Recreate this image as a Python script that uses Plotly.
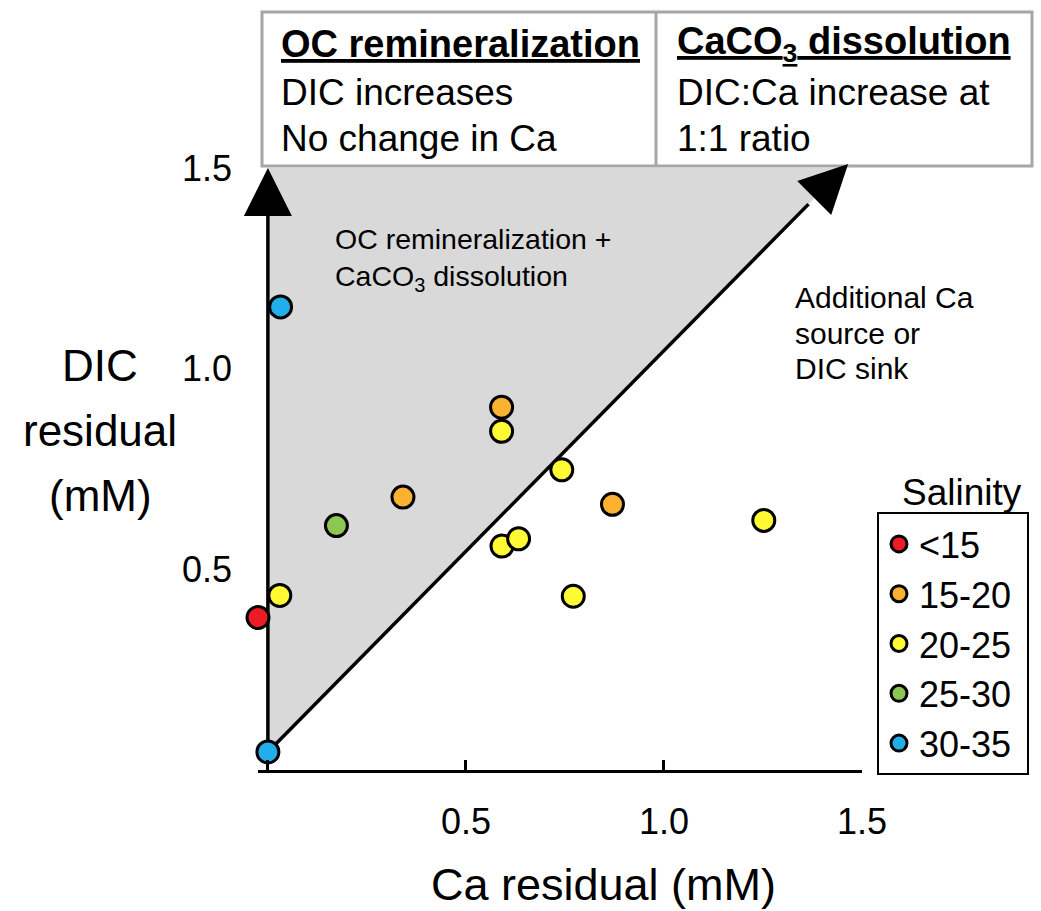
import plotly.graph_objects as go

# Residuals (mM) and salinity class of each station
ca_residual = [-0.025, 0.0, 0.032, 0.03, 0.59, 0.742, 0.591, 0.633, 0.771, 1.252, 0.173, 0.341, 0.59, 0.87]
dic_residual = [0.38, 0.045, 1.154, 0.435, 0.844, 0.748, 0.558, 0.576, 0.433, 0.622, 0.609, 0.68, 0.904, 0.662]
salinity_class = ["<15", "30-35", "30-35", "20-25", "20-25", "20-25", "20-25", "20-25", "20-25", "20-25",
                  "25-30", "15-20", "15-20", "15-20"]

class_order = ["<15", "15-20", "20-25", "25-30", "30-35"]
class_labels = ["&lt;15", "15-20", "20-25", "25-30", "30-35"]
class_colors = ["#ED1C24", "#FBB232", "#FFFA33", "#8DC653", "#22AEEA"]

x_ticks = [0.5, 1.0, 1.5]
x_ticktext = ["0.5", "1.0", "1.5"]
y_ticks = [0.5, 1.0, 1.5]
y_ticktext = ["0.5", "1.0", "1.5"]

# Process geometry: origin, pure OC remineralization (vertical), 1:1 CaCO3 dissolution
origin = (0.0, 0.045)
top_y = 1.5
diag_tip_x = 1.465

X_RANGE = [-0.025, 1.5]
Y_RANGE = [0, 1.52]

W, H = 1041, 911
PL, PR, PT, PB = 258, 862, 160, 770


def px_x(p):
    return (p - PL) / (PR - PL)


def px_y(p):
    return (PB - p) / (PB - PT)


FONT = "Liberation Sans, Arial, Helvetica, sans-serif"

fig = go.Figure()

# Shaded region between the two process vectors
fig.add_trace(go.Scatter(
    x=[origin[0], origin[0], origin[0] + (top_y - origin[1]), origin[0]],
    y=[origin[1], top_y, top_y, origin[1]],
    fill="toself", fillcolor="#D9D9D9", line=dict(width=0),
    mode="lines", hoverinfo="skip", showlegend=False))

# Arrow shafts
fig.add_trace(go.Scatter(
    x=[origin[0], origin[0]], y=[origin[1], top_y - 0.1],
    mode="lines", line=dict(color="black", width=3.5),
    hoverinfo="skip", showlegend=False))
fig.add_trace(go.Scatter(
    x=[origin[0], diag_tip_x - 0.1], y=[origin[1], diag_tip_x - 0.1 + origin[1]],
    mode="lines", line=dict(color="black", width=3.5),
    hoverinfo="skip", showlegend=False))

# Arrowheads at the end of each process vector
fig.add_trace(go.Scatter(
    x=[origin[0], diag_tip_x], y=[top_y, diag_tip_x + origin[1]],
    mode="markers", cliponaxis=False, hoverinfo="skip", showlegend=False,
    marker=dict(symbol="arrow-up", size=48, angle=[0, 45], color="black",
                line=dict(width=0))))

# Stations, one trace per salinity class
for cls, lab, col in zip(class_order, class_labels, class_colors):
    xs = [x for x, c in zip(ca_residual, salinity_class) if c == cls]
    ys = [y for y, c in zip(dic_residual, salinity_class) if c == cls]
    fig.add_trace(go.Scatter(
        x=xs, y=ys, mode="markers", name=lab + "\u00a0", cliponaxis=False,
        marker=dict(size=22, color=col, line=dict(color="black", width=3))))

annotations = []

# Table above the plot
table_text = [
    (279, 44, "<b><u>OC remineralization</u></b>", 38),
    (279, 92, "DIC increases", 37),
    (279, 138, "No change in Ca", 37),
    (675, 44, "<b><u>CaCO<sub>3</sub> dissolution</u></b>", 38),
    (675, 92, "DIC:Ca increase at", 37),
    (675, 138, "1:1 ratio", 37),
]
for xp, yp, t, fs in table_text:
    annotations.append(dict(x=px_x(xp), y=px_y(yp), xref="paper", yref="paper", text=t,
                            showarrow=False, xanchor="left", yanchor="middle",
                            font=dict(family=FONT, size=fs, color="black")))

# Labels inside the plot
annotations.append(dict(x=px_x(333), y=px_y(259), xref="paper", yref="paper",
                        text="OC remineralization +<br>CaCO<sub>3</sub> dissolution",
                        showarrow=False, xanchor="left", yanchor="middle", align="left",
                        font=dict(family=FONT, size=28.5, color="black")))
for yp, t in [(297, "Additional Ca"), (333, "source or"), (368, "DIC sink")]:
    annotations.append(dict(x=px_x(793), y=px_y(yp), xref="paper", yref="paper",
                            text=t, showarrow=False, xanchor="left", yanchor="middle",
                            font=dict(family=FONT, size=30, color="black")))

# Axis titles
annotations.append(dict(x=px_x(603), y=px_y(885), xref="paper", yref="paper",
                        text="Ca residual (mM)", showarrow=False,
                        xanchor="center", yanchor="middle",
                        font=dict(family=FONT, size=45, color="black")))
for yp, t in [(365, "DIC"), (430, "residual"), (495, "(mM)")]:
    annotations.append(dict(x=px_x(100), y=px_y(yp), xref="paper", yref="paper",
                            text=t, showarrow=False, xanchor="center", yanchor="middle",
                            font=dict(family=FONT, size=44, color="black")))

# Legend title
annotations.append(dict(x=px_x(962), y=px_y(492), xref="paper", yref="paper",
                        text="Salinity", showarrow=False, xanchor="center", yanchor="middle",
                        font=dict(family=FONT, size=37, color="black")))

shapes = [
    dict(type="rect", xref="paper", yref="paper",
         x0=px_x(262), x1=px_x(1032), y0=px_y(166), y1=px_y(12),
         line=dict(color="#A6A6A6", width=3), fillcolor="white", layer="below"),
    dict(type="line", xref="paper", yref="paper",
         x0=px_x(656), x1=px_x(656), y0=px_y(166), y1=px_y(12),
         line=dict(color="#A6A6A6", width=3)),
]

fig.update_layout(
    width=W, height=H,
    margin=dict(l=PL, r=W - PR, t=PT, b=H - PB),
    paper_bgcolor="white", plot_bgcolor="rgba(0,0,0,0)",
    font=dict(family=FONT, color="black"),
    annotations=annotations, shapes=shapes,
    showlegend=True,
    legend=dict(x=px_x(877), y=px_y(512), xanchor="left", yanchor="top",
                bordercolor="black", borderwidth=2, bgcolor="white",
                font=dict(family=FONT, size=36, color="black")),
    xaxis=dict(range=X_RANGE, showgrid=False, zeroline=False,
               showline=True, linecolor="black", linewidth=3,
               ticks="inside", ticklen=10, tickwidth=3, tickcolor="black",
               tickvals=x_ticks, ticktext=x_ticktext,
               tickfont=dict(family=FONT, size=36, color="black"),
               ticklabelstandoff=18,
               minor=dict(tickvals=[0], ticks="inside", ticklen=10, tickwidth=3,
                          tickcolor="black")),
    yaxis=dict(range=Y_RANGE, showgrid=False, zeroline=False, showline=False,
               ticks="", tickvals=y_ticks, ticktext=y_ticktext,
               tickfont=dict(family=FONT, size=36, color="black"),
               ticklabelstandoff=25),
)

fig.write_html("out.html")
